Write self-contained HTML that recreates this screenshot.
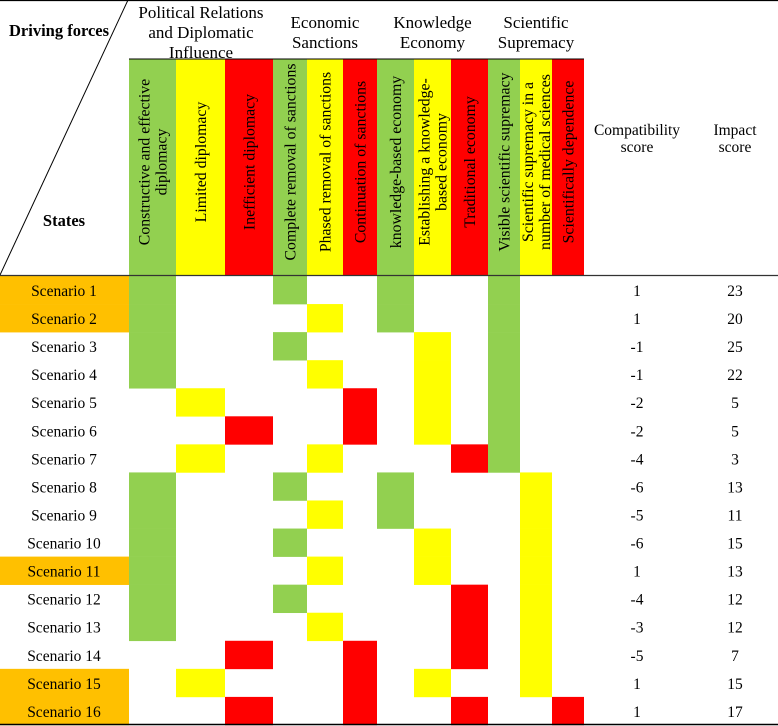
<!DOCTYPE html>
<html><head><meta charset="utf-8"><style>
html,body{margin:0;padding:0;background:#fff;}
svg{display:block;font-family:"Liberation Serif",serif;}
</style></head><body>
<svg id="chart" width="778" height="726" viewBox="0 0 778 726" xmlns="http://www.w3.org/2000/svg"></svg>
<script>
const scenarios=["Scenario 1","Scenario 2","Scenario 3","Scenario 4","Scenario 5","Scenario 6","Scenario 7","Scenario 8","Scenario 9","Scenario 10","Scenario 11","Scenario 12","Scenario 13","Scenario 14","Scenario 15","Scenario 16"];
const highlighted=[1,1,0,0,0,0,0,0,0,0,1,0,0,0,1,1];
const politicalState=[0,0,0,0,1,2,1,0,0,0,0,0,0,2,1,2];
const sanctionState=[0,1,0,1,2,2,1,0,1,0,1,0,1,2,2,2];
const economyState=[0,0,1,1,1,1,2,0,0,1,1,2,2,2,1,2];
const scienceState=[0,0,0,0,0,0,0,1,1,1,1,1,1,1,1,2];
const compatibility=[1,1,-1,-1,-2,-2,-4,-6,-5,-6,1,-4,-3,-5,1,1];
const impact=[23,20,25,22,5,5,3,13,11,15,13,12,12,7,15,17];
const groups=[["Political Relations","and Diplomatic","Influence"],["Economic","Sanctions"],["Knowledge","Economy"],["Scientific","Supremacy"]];
const stateLabels=[["Constructive and effective","diplomacy"],["Limited diplomacy"],["Inefficient diplomacy"],["Complete removal of sanctions"],["Phased removal of sanctions"],["Continuation of sanctions"],["knowledge-based economy"],["Establishing a knowledge-","based economy"],["Traditional economy"],["Visible scientific supremacy"],["Scientific supremacy in a","number of medical sciences"],["Scientifically dependence"]];

const colEdges=[129,176,225,273,307,343,377,414,451,488,520,552,584];
const colColors=["#92D050","#FFFF00","#FF0000"];
const rowTop=276,rowH=28.06;
const svg=document.getElementById('chart');
const NS="http://www.w3.org/2000/svg";
function el(tag,attrs,parent){const e=document.createElementNS(NS,tag);for(const k in attrs)e.setAttribute(k,attrs[k]);(parent||svg).appendChild(e);return e;}
function rowY(i){return rowTop+i*rowH;}

const defs=el('defs',{});
for(let c=0;c<12;c++){
  const cp=el('clipPath',{id:'clip'+c},defs);
  el('rect',{x:colEdges[c],y:59,width:colEdges[c+1]-colEdges[c],height:216},cp);
}
for(let c=0;c<12;c++){
  const r=el('rect',{x:colEdges[c],y:59,width:colEdges[c+1]-colEdges[c],height:216,fill:colColors[c%3]});
  
  
  const cx=(colEdges[c]+colEdges[c+1])/2;
  const lines=stateLabels[c];
  const g=el('g',{'clip-path':'url(#clip'+c+')'});
  const t=el('text',{transform:`translate(${cx},162) rotate(-90)`,'text-anchor':'middle','font-size':'15.8',fill:'#000'},g);
  
  
  lines.forEach((ln,k)=>{const ts=el('tspan',{x:0,y:(k-(lines.length-1)/2)*17+5.5},t);ts.textContent=ln;});
}
el('line',{x1:129,y1:59,x2:584,y2:59,stroke:'#000','stroke-width':1});

const groupSpans=[[0,3],[3,6],[6,9],[9,12]];
groups.forEach((g,gi)=>{
  const cx=(colEdges[groupSpans[gi][0]]+colEdges[groupSpans[gi][1]])/2;
  const t=el('text',{x:cx,y:0,'text-anchor':'middle','font-size':'17',fill:'#000'});
  
  
  const startY=g.length===3?18:28;
  g.forEach((ln,k)=>{const ts=el('tspan',{x:cx,y:startY+k*20},t);ts.textContent=ln;});
});

el('line',{x1:128,y1:0,x2:0,y2:275,stroke:'#000','stroke-width':1});
let t=el('text',{x:9,y:36,'font-size':'16.5','font-weight':'bold'});t.textContent='Driving forces';

t=el('text',{x:64,y:226,'font-size':'16.5','font-weight':'bold','text-anchor':'middle'});t.textContent='States';


[["Compatibility","score",637],["Impact","score",735]].forEach((h,i)=>{
  const tt=el('text',{x:h[2],y:0,'text-anchor':'middle','font-size':'15.5'});
  
  
  [h[0],h[1]].forEach((ln,k)=>{const ts=el('tspan',{x:h[2],y:135+k*17},tt);ts.textContent=ln;});
});

const stateArrays=[politicalState,sanctionState,economyState,scienceState];
scenarios.forEach((s,i)=>{
  const y=rowY(i);
  if(highlighted[i]){
    const r=el('rect',{x:0,y:y,width:129,height:rowH+0.3,fill:'#FFC000'});
    
  }
  const lt=el('text',{x:64,y:y+20,'text-anchor':'middle','font-size':'15.5'});lt.textContent=s;
  
  stateArrays.forEach((arr,g)=>{
    const c=g*3+arr[i];
    const r=el('rect',{x:colEdges[c],y:y,width:colEdges[c+1]-colEdges[c],height:rowH+0.3,fill:colColors[arr[i]]});
    
    
  });
  const ct=el('text',{x:637,y:y+20,'text-anchor':'middle','font-size':'15.5'});ct.textContent=compatibility[i];
  
  const it=el('text',{x:735,y:y+20,'text-anchor':'middle','font-size':'15.5'});it.textContent=impact[i];
  
});

el('line',{x1:0,y1:0.5,x2:778,y2:0.5,stroke:'#000','stroke-width':1.2});
el('line',{x1:0,y1:275.5,x2:778,y2:275.5,stroke:'#333','stroke-width':1.2});
el('line',{x1:0,y1:724.5,x2:778,y2:724.5,stroke:'#000','stroke-width':1.5});
</script>
</body></html>
